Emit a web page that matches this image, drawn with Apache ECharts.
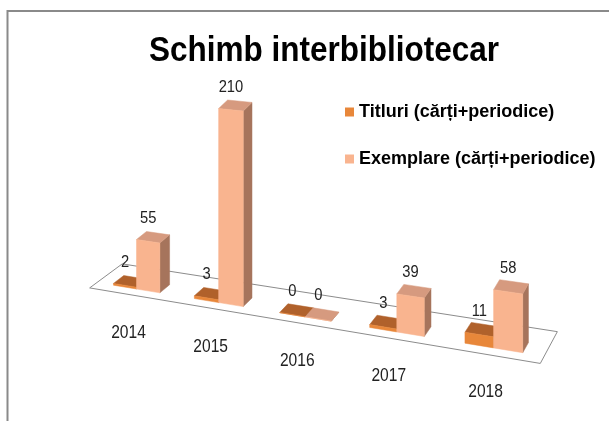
<!DOCTYPE html>
<html>
<head>
<meta charset="utf-8">
<title>Schimb interbibliotecar</title>
<script src="https://cdn.jsdelivr.net/npm/echarts@6/dist/echarts.min.js"></script>
<style>
html, body { margin: 0; padding: 0; background: #fff; }
#chart { width: 609px; height: 421px; }
</style>
</head>
<body>
<div id="chart"></div>
<script>
var years = ['2014', '2015', '2016', '2017', '2018'];
var titluri = [2, 3, 0, 3, 11];
var exemplare = [55, 210, 0, 39, 58];

var seriesNames = ['Titluri (cărți+periodice)', 'Exemplare (cărți+periodice)'];

// view of the 3D floor
var DIST = 3080;    // perspective distance, px
var SLOPE = 0.165;  // slant of the category axis
var BAR = 0.29;     // bar width as part of a category

var colT = { front: '#E8873A', top: '#B0612B', side: '#9A5526' };
var colE = { front: '#F9B48F', top: '#D69A7F', side: '#A6745C' };

function depthVec(n) {
    return [10 - n, -8 - 0.5 * n];
}

// point of the flat grid -> screen point
function project(api, fx, fy, depth) {
    var o = api.coord([0, 0]);
    var band = api.size([1, 0])[0];
    var n = (fx - o[0]) / band;
    var s = DIST / (DIST - (fx - o[0]));
    var x = o[0] + (fx - o[0]) * s;
    var y = o[1] + SLOPE * (x - o[0]) - (o[1] - fy) * s;
    var d = depthVec(n);
    return [x + d[0] * depth, y + d[1] * depth];
}

function poly(points, color) {
    return {
        type: 'polygon',
        shape: { points: points },
        style: { fill: color, stroke: color, lineWidth: 0.5 }
    };
}

function barItem(side, colors) {
    return function (params, api) {
        var i = api.value(0), v = api.value(1);
        var w = api.size([1, 0])[0] * BAR;
        var c0 = api.coord([i, 0]);
        var c1 = api.coord([i, v]);
        var xl = side === 0 ? c0[0] - w : c0[0];
        var xr = xl + w;
        var fbl = project(api, xl, c0[1], 0), fbr = project(api, xr, c0[1], 0);
        var ftl = project(api, xl, c1[1], 0), ftr = project(api, xr, c1[1], 0);
        var bbr = project(api, xr, c0[1], 1), btr = project(api, xr, c1[1], 1);
        var btl = project(api, xl, c1[1], 1);
        var children = [
            poly([fbr, bbr, btr, ftr], colors.side),
            poly([ftl, ftr, btr, btl], colors.top),
            poly([fbl, fbr, ftr, ftl], colors.front),
            {
                type: 'text',
                x: (ftl[0] + ftr[0]) / 2,
                y: ftl[1] - 13,
                scaleX: 0.92,
                style: {
                    text: String(v), fill: '#222', fontSize: 16,
                    fontFamily: 'Liberation Sans', align: 'center', verticalAlign: 'bottom'
                }
            }
        ];
        if (side === 0) {
            var p = project(api, c0[0], c0[1], 0);
            children.push({
                type: 'text',
                x: p[0] - 8,
                y: p[1] + 44,
                scaleX: 0.82,
                style: {
                    text: years[i], fill: '#222', fontSize: 19,
                    fontFamily: 'Liberation Sans', align: 'center', verticalAlign: 'middle'
                }
            });
        }
        return { type: 'group', children: children };
    };
}

function floorItem(params, api) {
    var band = api.size([1, 0])[0];
    var c0 = api.coord([0, 0]);
    var c4 = api.coord([years.length - 1, 0]);
    var xl = c0[0] - 0.5 * band, xr = c4[0] + 0.5 * band;
    return {
        type: 'polygon',
        shape: { points: [
            project(api, xl, c0[1], -0.7),
            project(api, xr, c0[1], -0.7),
            project(api, xr, c0[1], 2.4),
            project(api, xl, c0[1], 2.4)
        ] },
        style: { fill: '#fff', stroke: '#8c8c8c', lineWidth: 1 }
    };
}

var chart = echarts.init(document.getElementById('chart'));
chart.setOption({
    animation: false,
    backgroundColor: '#fff',
    legend: {
        orient: 'vertical',
        left: 345,
        top: 103,
        padding: 0,
        itemWidth: 9,
        itemHeight: 9,
        itemGap: 29,
        icon: 'rect',
        data: seriesNames,
        textStyle: { fontSize: 18, fontWeight: 'bold', fontFamily: 'Liberation Sans', color: '#000' }
    },
    graphic: [{
        type: 'rect',
        shape: { x: 7.5, y: 11, width: 640, height: 440 },
        style: { fill: 'none', stroke: '#8a8a8a', lineWidth: 2 },
        silent: true
    }, {
        type: 'text',
        x: 324,
        y: 51,
        scaleX: 0.9,
        style: {
            text: 'Schimb interbibliotecar', fill: '#000',
            fontSize: 35, fontWeight: 'bold', fontFamily: 'Liberation Sans',
            align: 'center', verticalAlign: 'middle'
        },
        silent: true
    }],
    grid: { left: 96.5, width: 400, top: 73, height: 216 },
    xAxis: { type: 'category', data: years, show: false },
    yAxis: { type: 'value', min: 0, max: 240, show: false },
    series: [{
        type: 'custom',
        name: 'floor',
        silent: true,
        renderItem: floorItem,
        data: [[0, 0]]
    }, {
        type: 'custom',
        name: seriesNames[0],
        itemStyle: { color: colT.front },
        renderItem: barItem(0, colT),
        data: titluri.map(function (v, i) { return [i, v]; })
    }, {
        type: 'custom',
        name: seriesNames[1],
        itemStyle: { color: colE.front },
        renderItem: barItem(1, colE),
        data: exemplare.map(function (v, i) { return [i, v]; })
    }]
});
</script>
</body>
</html>
